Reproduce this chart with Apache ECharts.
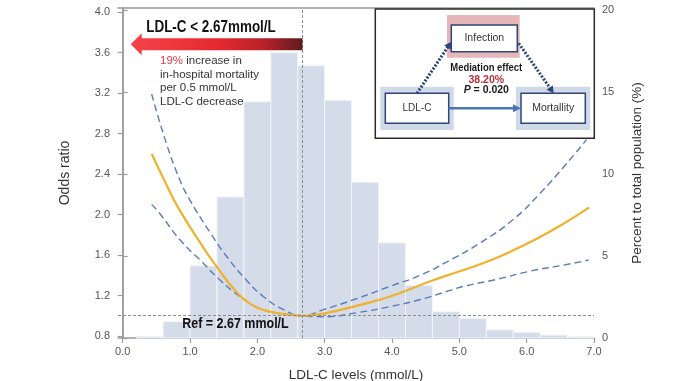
<!DOCTYPE html>
<html><head><meta charset="utf-8">
<script src="https://cdn.jsdelivr.net/npm/echarts@6/dist/echarts.min.js"></script>
<style>html,body{margin:0;padding:0;background:#fff}#c{width:678px;height:381px}</style>
</head><body><div id="c"></div><script>
// ---- data ----
const xTicks = [0, 1, 2, 3, 4, 5, 6, 7];
const orTicks = [0.8, 1.2, 1.6, 2.0, 2.4, 2.8, 3.2, 3.6, 4.0];
const pctTicks = [0, 5, 10, 15, 20];
const binLo = [0.2, 0.6, 1.0, 1.4, 1.8, 2.2, 2.6, 3.0, 3.4, 3.8, 4.2, 4.6, 5.0, 5.4, 5.8, 6.2, 6.6];
const binHi = [0.6, 1.0, 1.4, 1.8, 2.2, 2.6, 3.0, 3.4, 3.8, 4.2, 4.6, 5.0, 5.4, 5.8, 6.2, 6.6, 7.0];
const binPct = [0.1, 1.0, 4.4, 8.6, 14.4, 17.4, 16.6, 14.5, 9.5, 5.8, 3.2, 1.6, 1.2, 0.5, 0.35, 0.18, 0.08];
const orX = [0.43, 0.63, 0.83, 1.22, 1.40, 1.67, 1.89, 2.19, 2.49, 2.67, 2.98, 3.48, 3.97, 4.57, 4.96, 5.36, 5.75, 6.15, 6.55, 6.93];
const orY = [2.60, 2.32, 2.06, 1.65, 1.48, 1.25, 1.12, 1.04, 1.01, 1.00, 1.02, 1.10, 1.19, 1.34, 1.43, 1.52, 1.63, 1.76, 1.91, 2.07];
const upX = [0.43, 0.65, 0.85, 1.00, 1.30, 1.55, 1.84, 2.09, 2.39, 2.67, 2.98, 3.48, 3.97, 4.42, 4.81, 5.31, 5.80, 6.20, 6.55, 6.89];
const upY = [3.19, 2.70, 2.34, 2.14, 1.82, 1.58, 1.35, 1.19, 1.06, 1.00, 1.06, 1.17, 1.29, 1.40, 1.53, 1.72, 1.95, 2.21, 2.47, 2.74];
const loX = [0.43, 0.55, 0.85, 1.15, 1.45, 1.74, 2.04, 2.34, 2.67, 2.98, 3.48, 3.97, 4.42, 4.86, 5.06, 5.56, 6.05, 6.55, 6.92];
const loY = [2.10, 2.01, 1.75, 1.55, 1.35, 1.19, 1.07, 1.02, 1.00, 0.99, 1.03, 1.09, 1.16, 1.25, 1.29, 1.36, 1.44, 1.50, 1.55];
const refX = 2.67;
const refOR = 1.0;

// ---- chart ----
const FONT = '"Liberation Sans", Arial, Helvetica, sans-serif';
const AX = '#9b9b9b';
const zip = (a, b) => a.map((v, i) => [v, b[i]]);
const chart = echarts.init(document.getElementById('c'), null, { renderer: 'canvas' });

const axisCommon = {
  axisLine: { show: true, lineStyle: { color: AX, width: 1.5 } },
  splitLine: { show: false },
};

chart.setOption({
  animation: false,
  backgroundColor: '#fff',
  textStyle: { fontFamily: FONT },
  grid: { left: 118, right: 84, top: 8, bottom: 43, containLabel: false, outerBoundsMode: 'none' },
  xAxis: [{
    ...axisCommon, type: 'value', min: -0.07, max: 7.0, position: 'bottom',
    axisTick: { show: true, length: 5, customValues: xTicks, lineStyle: { color: AX, width: 1.2 } },
    axisLabel: { customValues: xTicks, formatter: v => v.toFixed(1), color: '#555', fontSize: 11, margin: 8, fontFamily: FONT },
    name: 'LDL-C levels (mmol/L)', nameLocation: 'middle', nameGap: 30,
    nameTextStyle: { color: '#333', fontSize: 13.5, fontFamily: FONT }
  }, {
    ...axisCommon, type: 'value', min: -0.07, max: 7.0, position: 'top',
    axisTick: { show: false }, axisLabel: { show: false }
  }],
  yAxis: [{
    ...axisCommon, type: 'value', min: 0.78, max: 4.04, position: 'left',
    axisTick: { show: true, length: 5, customValues: orTicks, lineStyle: { color: AX, width: 1.2 } },
    axisLabel: { customValues: orTicks, formatter: v => v.toFixed(1), color: '#555', fontSize: 11, margin: 8, fontFamily: FONT },
    name: 'Odds ratio', nameLocation: 'middle', nameRotate: 90, nameGap: 46,
    nameTextStyle: { color: '#333', fontSize: 14, fontFamily: FONT }
  }, {
    ...axisCommon, type: 'value', min: 0, max: 20.12, position: 'right',
    axisTick: { show: true, length: 5, customValues: pctTicks, lineStyle: { color: AX, width: 1.2 } },
    axisLabel: { customValues: pctTicks, color: '#555', fontSize: 11, margin: 8, fontFamily: FONT },
    name: 'Percent to total population (%)', nameLocation: 'middle', nameRotate: 90, nameGap: 36,
    nameTextStyle: { color: '#333', fontSize: 13.5, fontFamily: FONT }
  }],
  series: [{
    type: 'custom', xAxisIndex: 0, yAxisIndex: 1, z: 1,
    data: binLo.map((lo, i) => [lo, binHi[i], binPct[i]]),
    encode: { x: [0, 1], y: 2 },
    renderItem: (params, api) => {
      const p0 = api.coord([api.value(0), 0]);
      const p1 = api.coord([api.value(1), api.value(2)]);
      return { type: 'rect',
        shape: { x: p0[0], y: p1[1], width: p1[0] - p0[0], height: p0[1] - p1[1] },
        style: { fill: '#d4dbe9', stroke: '#f2f4f8', lineWidth: 1 } };
    }
  }, {
    type: 'line', name: 'upper', data: zip(upX, upY), smooth: 0.5, showSymbol: false, z: 3,
    lineStyle: { color: '#5a7db6', width: 1.4, type: [7, 4] }
  }, {
    type: 'line', name: 'lower', data: zip(loX, loY), smooth: 0.5, showSymbol: false, z: 3,
    lineStyle: { color: '#5a7db6', width: 1.4, type: [7, 4] }
  }, {
    type: 'line', name: 'OR', data: zip(orX, orY), smooth: 0.5, showSymbol: false, z: 4,
    lineStyle: { color: '#f0b22e', width: 2.2 },
    markLine: {
      silent: true, symbol: 'none', label: { show: false },
      lineStyle: { color: '#8c8c8c', type: [3, 2], width: 1 },
      data: [{ xAxis: refX }, { yAxis: refOR }]
    }
  }]
});

// ---- annotations ----
const xr = chart.convertToPixel({ xAxisIndex: 0 }, refX);
const tipX = 130.7, ay = 44.2;
function head(x1, y1, x2, y2, L, W, color) {
  const a = Math.atan2(y2 - y1, x2 - x1), c = Math.cos(a), s = Math.sin(a);
  const bx = x2 - L * c, by = y2 - L * s;
  return { type: 'polygon', z: 20, shape: { points: [[x2, y2], [bx - W * s, by + W * c], [bx + W * s, by - W * c]] }, style: { fill: color } };
}
function shorten(x1, y1, x2, y2, d) {
  const a = Math.atan2(y2 - y1, x2 - x1);
  return [x2 - d * Math.cos(a), y2 - d * Math.sin(a)];
}
const navy = '#2e4677';
const e1 = shorten(417, 93.3, 451.3, 41.7, 6);
const e2 = shorten(518.7, 43.3, 553.7, 93.3, 6);
const T = (x, y, text, style, extra) => Object.assign({ type: 'text', z: 21, x, y,
  style: Object.assign({ text, fontFamily: FONT, align: 'center', verticalAlign: 'middle', fill: '#333' }, style) }, extra || {});

chart.setOption({ graphic: { elements: [
  // red arrow
  { type: 'polygon', z: 10, shape: { points: [[xr, ay - 6], [tipX + 11, ay - 6], [tipX + 11, ay - 11], [tipX, ay], [tipX + 11, ay + 11], [tipX + 11, ay + 6], [xr, ay + 6]] },
    style: { fill: { type: 'linear', x: 0, y: 0, x2: 1, y2: 0, colorStops: [
      { offset: 0, color: '#f4434a' }, { offset: 0.5, color: '#e52a30' }, { offset: 0.78, color: '#b8212a' }, { offset: 1, color: '#5e1b1d' }] } } },
  T(211, 27.7, 'LDL-C < 2.67mmol/L', { fontSize: 16, fontWeight: 'bold', fill: '#111' }, { scaleX: 0.84 }),
  { type: 'text', z: 10, x: 160, y: 54.5, style: { fontFamily: FONT, fontSize: 11.5, fill: '#333', lineHeight: 13.5,
      text: '{r|19%} increase in\nin-hospital mortality\nper 0.5 mmol/L\nLDL-C decrease',
      rich: { r: { fill: '#e23a40', fontSize: 11.5, fontFamily: FONT } } } },
  T(235.5, 324, 'Ref = 2.67 mmol/L', { fontSize: 14.5, fontWeight: 'bold', fill: '#111' }, { scaleX: 0.86 }),
  // inset
  { type: 'rect', z: 15, shape: { x: 375.3, y: 9, width: 219, height: 129.3 }, style: { fill: '#fff', stroke: '#2a2a2a', lineWidth: 1.5 } },
  { type: 'rect', z: 16, shape: { x: 447, y: 15, width: 72.7, height: 42.7 }, style: { fill: '#e6b6b9' } },
  { type: 'rect', z: 16, shape: { x: 380.3, y: 86.7, width: 73.4, height: 43.3 }, style: { fill: '#d0d9e8' } },
  { type: 'rect', z: 16, shape: { x: 516, y: 86.7, width: 74.3, height: 43.3 }, style: { fill: '#d0d9e8' } },
  { type: 'rect', z: 17, shape: { x: 451.3, y: 25, width: 66, height: 26.7 }, style: { fill: '#fff', stroke: navy, lineWidth: 1.5 } },
  { type: 'rect', z: 17, shape: { x: 385.3, y: 93.3, width: 63.4, height: 30 }, style: { fill: '#fff', stroke: navy, lineWidth: 1.5 } },
  { type: 'rect', z: 17, shape: { x: 521, y: 93.3, width: 64.3, height: 30 }, style: { fill: '#fff', stroke: navy, lineWidth: 1.5 } },
  T(484.3, 38.5, 'Infection', { fontSize: 10.5 }),
  T(417, 108.5, 'LDL-C', { fontSize: 10 }),
  T(553.2, 108.5, 'Mortallity', { fontSize: 10.5 }),
  // solid arrow
  { type: 'line', z: 18, shape: { x1: 448.7, y1: 108.3, x2: 514, y2: 108.3 }, style: { stroke: '#4a75b6', lineWidth: 2.4 } },
  head(448.7, 108.3, 521, 108.3, 8, 4, '#4a75b6'),
  // dotted arrows
  { type: 'line', z: 18, shape: { x1: 417, y1: 93.3, x2: e1[0], y2: e1[1] }, style: { stroke: navy, lineWidth: 3, lineDash: [2, 1.6] } },
  head(417, 93.3, 451.3, 41.7, 7, 3.8, navy),
  { type: 'line', z: 18, shape: { x1: 518.7, y1: 43.3, x2: e2[0], y2: e2[1] }, style: { stroke: navy, lineWidth: 3, lineDash: [2, 1.6] } },
  head(518.7, 43.3, 553.7, 93.3, 7, 3.8, navy),
  T(486.3, 67.7, 'Mediation effect', { fontSize: 10.5, fontWeight: 'bold', fill: '#1a1a1a' }, { scaleX: 0.9 }),
  T(486.3, 79.7, '38.20%', { fontSize: 10.5, fontWeight: 'bold', fill: '#b5303a' }),
  T(486.3, 90.5, '{i|P} = 0.020', { fontSize: 10.5, fontWeight: 'bold', fill: '#1a1a1a',
     rich: { i: { fontStyle: 'italic', fontWeight: 'bold', fontSize: 10.5, fontFamily: FONT, fill: '#1a1a1a' } } })
] } });
</script></body></html>
